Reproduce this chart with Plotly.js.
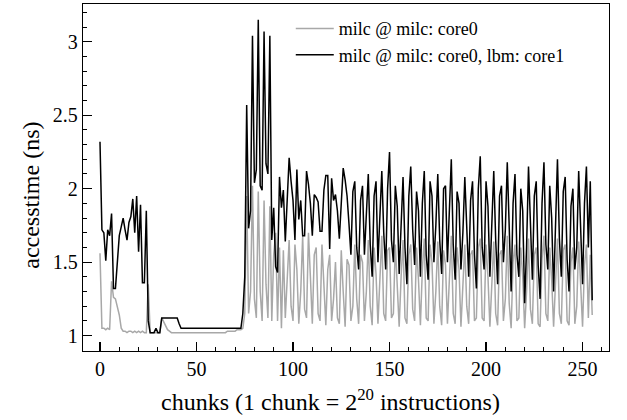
<!DOCTYPE html>
<html>
<head>
<meta charset="utf-8">
<script src="https://cdn.plot.ly/plotly-3.0.1.min.js"></script>
<style>html,body{margin:0;padding:0;background:#fff;}#chart{width:627px;height:420px;}</style>
</head>
<body>
<div id="chart"></div>
<script>
// milc @ milc: core0 (gray)
var soloValues = [
1.56,1.05,1.05,1.04,1.05,1.04,1.37,1.26,1.25,1.20,
1.14,1.05,1.03,1.03,1.02,1.03,1.03,1.02,1.03,1.02,
1.03,1.02,1.03,1.02,1.02,1.35,1.02,1.02,1.02,1.02,
1.02,1.02,1.12,1.09,1.06,1.04,1.03,1.02,1.02,1.02,
1.02,1.02,1.02,1.02,1.02,1.02,1.02,1.02,1.02,1.02,
1.02,1.02,1.02,1.02,1.02,1.02,1.02,1.02,1.02,1.02,
1.02,1.02,1.02,1.02,1.02,1.02,1.03,1.03,1.03,1.03,
1.03,1.04,1.04,1.04,1.05,1.15,1.95,1.15,1.30,2.02,
1.25,1.12,1.98,1.30,1.10,1.92,1.35,1.12,1.88,1.10,
1.55,1.70,1.10,1.60,1.05,1.58,1.12,1.35,1.65,1.20,
1.10,1.62,1.45,1.08,1.30,1.68,1.18,1.12,1.70,1.40,
1.08,1.55,1.60,1.15,1.10,1.62,1.35,1.07,1.45,1.55,
1.10,1.25,1.50,1.12,1.08,1.58,1.30,1.06,1.52,1.48,
1.10,1.20,1.62,1.25,1.08,1.55,1.50,1.10,1.30,1.65,
1.20,1.07,1.60,1.42,1.08,1.35,1.68,1.15,1.10,1.58,
1.60,1.12,1.15,1.62,1.35,1.06,1.40,1.65,1.12,1.08,
1.55,1.62,1.18,1.10,1.60,1.38,1.07,1.45,1.66,1.12,
1.10,1.62,1.50,1.08,1.30,1.64,1.20,1.07,1.58,1.48,
1.08,1.35,1.68,1.15,1.08,1.60,1.45,1.06,1.32,1.62,
1.20,1.08,1.55,1.58,1.10,1.12,1.60,1.66,1.12,1.10,
1.62,1.40,1.06,1.38,1.64,1.15,1.07,1.55,1.58,1.10,
1.25,1.68,1.22,1.05,1.50,1.62,1.10,1.12,1.60,1.40,
1.05,1.30,1.66,1.18,1.08,1.55,1.60,1.08,1.06,1.52,
1.68,1.15,1.10,1.60,1.38,1.06,1.35,1.66,1.15,1.08,
1.58,1.62,1.10,1.07,1.50,1.60,1.08,1.20,1.64,1.30,
1.06,1.48,1.62,1.12,1.55,1.14
];
// milc @ milc: core0, lbm: core1 (black)
var sharedValues = [
2.32,1.72,1.70,1.51,1.72,1.68,1.83,1.32,1.32,1.50,
1.68,1.74,1.80,1.72,1.65,1.77,1.81,1.93,1.70,1.95,
1.57,1.89,1.36,1.36,1.85,1.10,1.02,1.02,1.02,1.05,
1.02,1.02,1.12,1.12,1.12,1.12,1.12,1.12,1.12,1.12,
1.12,1.08,1.05,1.05,1.05,1.05,1.05,1.05,1.05,1.05,
1.05,1.05,1.05,1.05,1.05,1.05,1.05,1.05,1.05,1.05,
1.05,1.05,1.05,1.05,1.05,1.05,1.05,1.05,1.05,1.05,
1.05,1.05,1.05,1.05,1.15,1.40,2.57,1.73,1.85,3.04,
2.04,2.13,3.15,2.02,1.99,3.07,2.17,2.10,3.04,1.65,
1.87,1.47,1.43,2.08,1.87,1.99,1.64,1.95,2.21,2.05,
1.92,1.65,2.13,1.79,1.92,1.68,1.68,2.12,2.03,1.90,
1.68,1.96,1.94,1.91,1.71,1.71,1.99,2.09,2.09,1.59,
2.07,1.92,1.96,1.85,1.66,1.90,2.14,2.06,1.95,1.76,
1.55,1.98,2.05,1.60,1.45,1.92,2.02,1.55,1.85,2.10,
1.62,1.40,1.95,2.05,1.50,1.78,2.12,1.70,1.45,2.00,
2.25,1.65,1.50,2.02,1.88,1.42,1.80,2.08,1.60,1.35,
1.95,2.15,1.72,1.48,1.98,1.85,1.40,1.90,2.12,1.55,
1.38,2.05,1.95,1.50,1.75,2.10,1.65,1.42,2.00,2.02,
1.50,1.85,2.20,1.62,1.38,1.98,1.90,1.45,1.70,2.08,
1.75,1.40,1.92,2.05,1.55,1.32,2.00,2.22,1.60,1.45,
2.05,1.88,1.40,1.80,2.12,1.65,1.35,1.95,2.02,1.50,
1.72,2.18,1.70,1.30,1.90,2.10,1.55,1.40,2.00,1.85,
1.22,1.60,2.15,1.68,1.38,1.95,2.05,1.48,1.25,1.90,
2.18,1.62,1.45,2.02,1.80,1.30,1.75,2.20,1.66,1.40,
1.98,2.08,1.52,1.30,1.88,2.00,1.45,1.60,2.12,1.75,
1.35,1.90,2.15,1.60,2.05,1.24
];
var seriesNames = ['milc @ milc: core0', 'milc @ milc: core0, lbm: core1'];
var xTitle = 'chunks (1 chunk = 2<sup>20</sup> instructions)';
var yTitle = 'accesstime (ns)';

var chunks = soloValues.map(function (_, i) { return i; });
var FONT = 'Liberation Serif';

var traces = [
  {x: chunks, y: soloValues, type: 'scatter', mode: 'lines', name: seriesNames[0],
   line: {color: '#a8a8a8', width: 1.5}},
  {x: chunks, y: sharedValues, type: 'scatter', mode: 'lines', name: seriesNames[1],
   line: {color: '#000000', width: 1.5}}
];

var axisCommon = {
  showline: true, linecolor: '#000', linewidth: 1.3, mirror: true,
  ticks: 'inside', ticklen: 9, tickwidth: 1.2, tickcolor: '#000',
  showgrid: false, zeroline: false,
  tickfont: {family: FONT, size: 20, color: '#000'}
};

var layout = {
  width: 627, height: 420,
  margin: {l: 83, r: 18, t: 4, b: 69},
  paper_bgcolor: '#fff', plot_bgcolor: '#fff',
  font: {family: FONT, color: '#000'},
  showlegend: true,
  legend: {x: 0.395, xanchor: 'left', y: 0.982, yanchor: 'top', itemwidth: 38,
           bgcolor: 'rgba(255,255,255,0)', borderwidth: 0,
           font: {family: FONT, size: 18, color: '#000'}, tracegroupgap: 0},
  xaxis: Object.assign({}, axisCommon, {
    range: [-8.8, 263.7], tickmode: 'linear', tick0: 0, dtick: 50,
    minor: {dtick: 10, ticks: 'inside', ticklen: 4, tickwidth: 1, tickcolor: '#000', showgrid: false}
  }),
  yaxis: Object.assign({}, axisCommon, {
    range: [0.895, 3.257], tickmode: 'linear', tick0: 1, dtick: 0.5,
    minor: {dtick: 0.1, ticks: 'inside', ticklen: 4, tickwidth: 1, tickcolor: '#000', showgrid: false}
  }),
  annotations: [
    {text: xTitle, xref: 'paper', yref: 'paper', x: 0.47, y: -0.14, xanchor: 'center', yanchor: 'middle',
     showarrow: false, font: {family: FONT, size: 24, color: '#000'}},
    {text: yTitle, xref: 'paper', yref: 'paper', x: -0.099, y: 0.45, xanchor: 'center', yanchor: 'middle',
     textangle: -90, showarrow: false, font: {family: FONT, size: 24, color: '#000'}}
  ]
};

Plotly.newPlot('chart', traces, layout, {displayModeBar: false, staticPlot: true});
</script>
</body>
</html>
